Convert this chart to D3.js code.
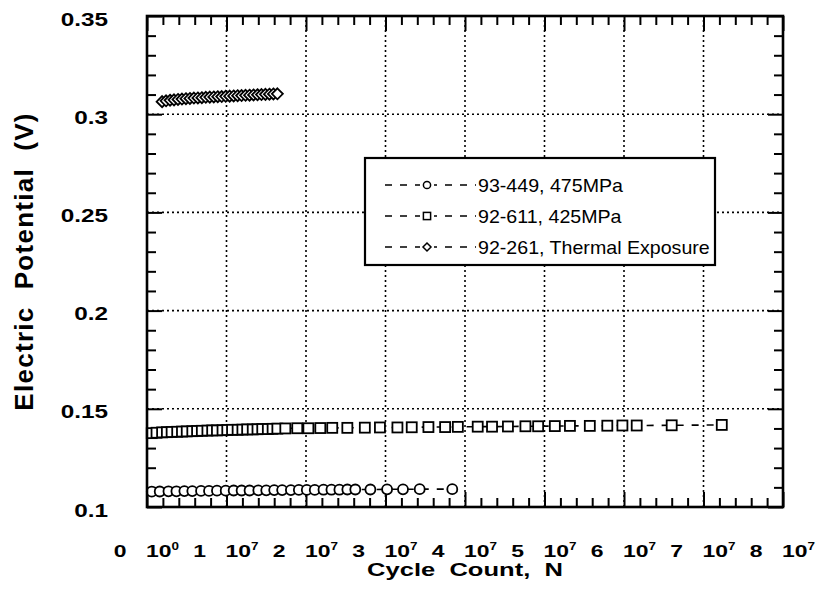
<!DOCTYPE html>
<html>
<head>
<meta charset="utf-8">
<script src="https://cdn.jsdelivr.net/npm/d3@7"></script>
<style>
  body { margin: 0; background: #fff; }
  svg { display: block; }
  text { font-family: "Liberation Sans", Arial, Helvetica, sans-serif; fill: #000; white-space: pre; }
</style>
</head>
<body>
<svg id="chart" width="821" height="592"></svg>
<script>
// ---- data -------------------------------------------------------------
// x-axis ticks (cycles), mantissa / exponent pairs shown under each tick
const xTicks      = [0, 1e7, 2e7, 3e7, 4e7, 5e7, 6e7, 7e7, 8e7];
const xTickDigits = ["0", "1", "2", "3", "4", "5", "6", "7", "8"];
const xTickPowers = ["0", "7", "7", "7", "7", "7", "7", "7", "7"];
const yTicks      = [0.1, 0.15, 0.2, 0.25, 0.3, 0.35];
const yTickLabels = ["0.1", "0.15", "0.2", "0.25", "0.3", "0.35"];

const seriesNames = ["93-449, 475MPa", "92-611, 425MPa", "92-261, Thermal Exposure"];

// 93-449, 475MPa (circles)
const cyclesA = [0.06e7, 0.16e7, 0.27e7, 0.37e7, 0.47e7, 0.57e7, 0.68e7, 0.78e7, 0.88e7, 0.99e7,
                 1.09e7, 1.19e7, 1.29e7, 1.40e7, 1.50e7, 1.60e7, 1.70e7, 1.81e7, 1.91e7, 2.01e7,
                 2.11e7, 2.22e7, 2.32e7, 2.42e7, 2.52e7, 2.62e7, 2.81e7, 3.02e7, 3.22e7, 3.43e7, 3.84e7];
const potentialA = [0.1078, 0.1079, 0.1080, 0.1080, 0.1081, 0.1081, 0.1082, 0.1082, 0.1083, 0.1083,
                    0.1084, 0.1084, 0.1084, 0.1085, 0.1085, 0.1086, 0.1086, 0.1086, 0.1087, 0.1087,
                    0.1087, 0.1088, 0.1088, 0.1088, 0.1089, 0.1089, 0.1089, 0.1090, 0.1090, 0.1091, 0.1091];

// 92-611, 425MPa (squares)
const cyclesB = [0.06e7, 0.12e7, 0.19e7, 0.25e7, 0.31e7, 0.38e7, 0.44e7, 0.50e7, 0.57e7, 0.63e7,
                 0.69e7, 0.76e7, 0.82e7, 0.88e7, 0.95e7, 1.01e7, 1.07e7, 1.14e7, 1.20e7, 1.26e7,
                 1.33e7, 1.39e7, 1.45e7, 1.52e7, 1.58e7, 1.64e7,
                 1.74e7, 1.89e7, 2.03e7, 2.18e7, 2.33e7, 2.52e7, 2.74e7, 2.93e7, 3.15e7, 3.33e7,
                 3.54e7, 3.75e7, 3.91e7, 4.16e7, 4.34e7, 4.54e7, 4.76e7, 4.92e7, 5.13e7, 5.32e7,
                 5.57e7, 5.79e7, 5.98e7, 6.16e7, 6.60e7, 7.23e7];
const potentialB = [0.1376, 0.1378, 0.1380, 0.1381, 0.1382, 0.1383, 0.1384, 0.1385, 0.1386, 0.1387,
                    0.1388, 0.1389, 0.1390, 0.1390, 0.1391, 0.1392, 0.1393, 0.1393, 0.1394, 0.1395,
                    0.1395, 0.1396, 0.1397, 0.1397, 0.1398, 0.1399,
                    0.1400, 0.1401, 0.1401, 0.1402, 0.1403, 0.1403, 0.1404, 0.1405, 0.1405, 0.1406,
                    0.1407, 0.1407, 0.1408, 0.1409, 0.1409, 0.1410, 0.1411, 0.1411, 0.1412, 0.1413,
                    0.1413, 0.1414, 0.1415, 0.1415, 0.1416, 0.1418];

// 92-261, Thermal Exposure (diamonds)
const cyclesC = [0.19e7, 0.24e7, 0.29e7, 0.34e7, 0.39e7, 0.44e7, 0.49e7, 0.54e7, 0.59e7, 0.64e7,
                 0.69e7, 0.74e7, 0.79e7, 0.84e7, 0.89e7, 0.94e7, 0.99e7, 1.04e7, 1.09e7, 1.14e7,
                 1.19e7, 1.24e7, 1.29e7, 1.34e7, 1.39e7, 1.44e7, 1.49e7, 1.54e7, 1.59e7, 1.64e7];
const potentialC = [0.3064, 0.3068, 0.3071, 0.3073, 0.3075, 0.3077, 0.3079, 0.3080, 0.3082, 0.3083,
                    0.3084, 0.3086, 0.3087, 0.3088, 0.3089, 0.3090, 0.3091, 0.3092, 0.3093, 0.3094,
                    0.3095, 0.3096, 0.3097, 0.3098, 0.3099, 0.3100, 0.3101, 0.3102, 0.3103, 0.3104];

// ---- layout -----------------------------------------------------------
const W = 821, H = 592;
const plot = { left: 147, right: 783, top: 16, bottom: 507 };
const x = d3.scaleLinear().domain([0, 8e7]).range([plot.left, plot.right]);
const y = d3.scaleLinear().domain([0.1, 0.35]).range([plot.bottom, plot.top]);

const xMinor = d3.range(0, 8e7 + 1, 2e6).filter(v => v % 1e7 !== 0);
const yMinor = d3.range(10, 36, 1).map(v => v / 100).filter(v => Math.round(v * 100) % 5 !== 0);

const svg = d3.select("#chart");
svg.append("rect").attr("width", W).attr("height", H).attr("fill", "#fff");

// ---- dotted grid ------------------------------------------------------
const grid = svg.append("g")
  .attr("stroke", "#000").attr("stroke-width", 1.6).attr("stroke-dasharray", "2,3");
grid.selectAll("line.gv").data(xTicks.slice(1, -1)).join("line").attr("class", "gv")
  .attr("x1", d => x(d)).attr("x2", d => x(d))
  .attr("y1", plot.bottom).attr("y2", plot.top);
grid.selectAll("line.gh").data(yTicks.slice(1, -1)).join("line").attr("class", "gh")
  .attr("x1", plot.left).attr("x2", plot.right)
  .attr("y1", d => y(d)).attr("y2", d => y(d));

// ---- inward ticks on all four sides ------------------------------------
const majorLen = 15, minorLen = 9;
function tickStyle(g) {
  g.select(".domain").remove();
  g.selectAll("text").remove();
  g.selectAll("line").attr("stroke", "#000").attr("stroke-width", 2);
}
const axes = [
  [d3.axisBottom, x, `translate(0,${plot.bottom})`, xTicks, xMinor],
  [d3.axisTop,    x, `translate(0,${plot.top})`,    xTicks, xMinor],
  [d3.axisLeft,   y, `translate(${plot.left},0)`,   yTicks, yMinor],
  [d3.axisRight,  y, `translate(${plot.right},0)`,  yTicks, yMinor]
];
axes.forEach(([fn, sc, tr, major, minor]) => {
  svg.append("g").attr("transform", tr)
    .call(fn(sc).tickValues(minor).tickSize(-minorLen)).call(tickStyle);
  svg.append("g").attr("transform", tr)
    .call(fn(sc).tickValues(major).tickSize(-majorLen)).call(tickStyle);
});

// ---- series -------------------------------------------------------------
const line = d3.line().x(d => x(d[0])).y(d => y(d[1]));
const series = [
  { name: seriesNames[0], pts: d3.zip(cyclesA, potentialA), shape: "circle" },
  { name: seriesNames[1], pts: d3.zip(cyclesB, potentialB), shape: "square" },
  { name: seriesNames[2], pts: d3.zip(cyclesC, potentialC), shape: "diamond" }
];

function marker(g, shape, size) {
  if (shape === "circle") {
    g.append("circle").attr("r", size);
  } else if (shape === "square") {
    g.append("rect").attr("x", -size).attr("y", -size).attr("width", 2 * size).attr("height", 2 * size);
  } else {
    g.append("path").attr("d", `M0,${-size}L${size},0L0,${size}L${-size},0Z`);
  }
}

series.forEach(s => {
  svg.append("path").attr("d", line(s.pts))
    .attr("fill", "none").attr("stroke", "#000").attr("stroke-width", 1.6)
    .attr("stroke-dasharray", "7,8");
  const mg = svg.append("g").attr("fill", "#fff").attr("stroke", "#000").attr("stroke-width", 1.8);
  s.pts.forEach(p => {
    const g = mg.append("g").attr("transform", `translate(${x(p[0])},${y(p[1])})`);
    marker(g, s.shape, s.shape === "diamond" ? 5.5 : 5);
  });
});

// ---- frame --------------------------------------------------------------
svg.append("rect")
  .attr("x", plot.left).attr("y", plot.top)
  .attr("width", plot.right - plot.left).attr("height", plot.bottom - plot.top)
  .attr("fill", "none").attr("stroke", "#000").attr("stroke-width", 2.6);

// ---- tick labels ----------------------------------------------------------
const stretch = 1.35;
yTicks.forEach((v, i) => {
  svg.append("g").attr("transform", `translate(108,${y(v) + 9.5}) scale(${stretch},1)`)
    .append("text").attr("text-anchor", "end")
    .attr("font-size", 18).attr("font-weight", "bold").text(yTickLabels[i]);
});

xTicks.forEach((v, i) => {
  const cx = x(v);
  svg.append("g").attr("transform", `translate(${cx - 27},557) scale(${stretch},1)`)
    .append("text").attr("text-anchor", "middle")
    .attr("font-size", 17).attr("font-weight", "bold").text(xTickDigits[i]);
  const t = svg.append("g").attr("transform", `translate(${cx - 1},557) scale(${stretch},1)`)
    .append("text").attr("font-size", 17).attr("font-weight", "bold");
  t.append("tspan").text("10");
  t.append("tspan").attr("font-size", 10).attr("dy", -7).text(xTickPowers[i]);
});

// ---- axis titles ----------------------------------------------------------
svg.append("g").attr("transform", `translate(${x(4e7)},576) scale(1.42,1)`)
  .append("text").attr("text-anchor", "middle")
  .attr("font-size", 18).attr("font-weight", "bold").text("Cycle  Count,  N");

svg.append("g").attr("transform", `translate(33,${(plot.top + plot.bottom) / 2}) rotate(-90)`)
  .append("text").attr("text-anchor", "middle")
  .attr("font-size", 26).attr("font-weight", "bold").attr("letter-spacing", 1.3)
  .text("Electric  Potential  (V)");

// ---- legend ---------------------------------------------------------------
const lg = svg.append("g");
lg.append("rect").attr("x", 365).attr("y", 158).attr("width", 350).attr("height", 107)
  .attr("fill", "#fff").attr("stroke", "#000").attr("stroke-width", 2.2);
const rowY = [185, 216, 247];
series.forEach((s, i) => {
  const ry = rowY[i];
  lg.append("line").attr("x1", 385).attr("x2", 476).attr("y1", ry).attr("y2", ry)
    .attr("stroke", "#000").attr("stroke-width", 1.6).attr("stroke-dasharray", "7,8");
  const g = lg.append("g").attr("transform", `translate(427,${ry})`)
    .attr("fill", "#fff").attr("stroke", "#000").attr("stroke-width", 1.5);
  g.append("rect").attr("x", -7).attr("y", -6).attr("width", 14).attr("height", 12).attr("stroke", "none");
  marker(g, s.shape, s.shape === "diamond" ? 4 : 3.6);
  lg.append("g").attr("transform", `translate(478,${ry + 6.5}) scale(1.09,1)`)
    .append("text").attr("font-size", 18).text(s.name);
});
</script>
</body>
</html>
